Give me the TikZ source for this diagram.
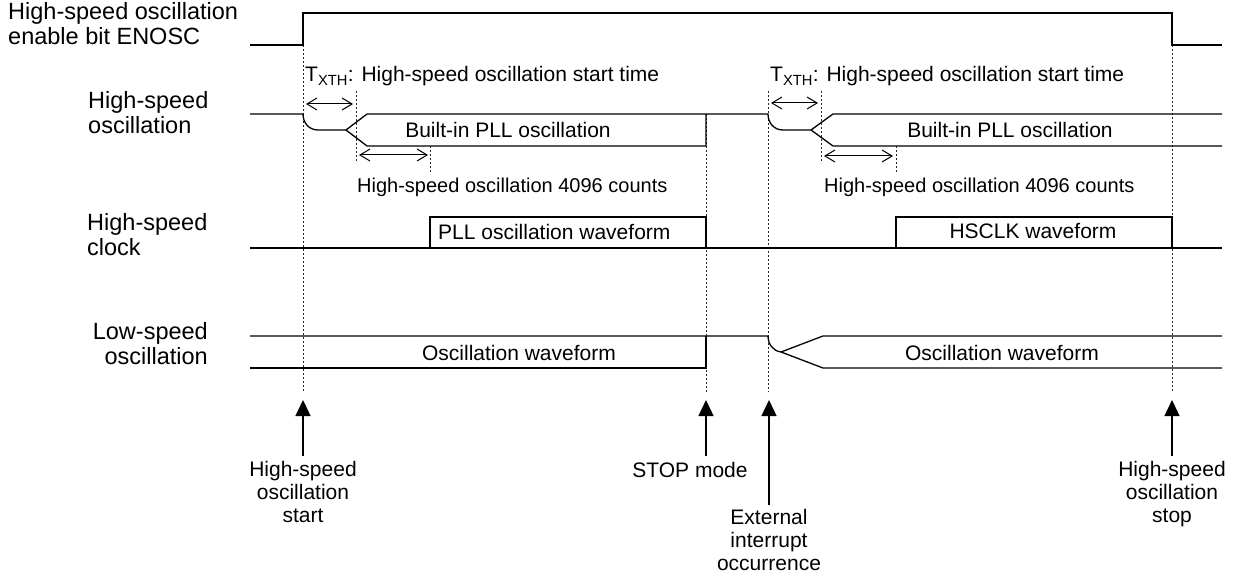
\documentclass[tikz,border=0pt]{standalone}
\usepackage{fontspec}
\setmainfont{Liberation Sans}
\usetikzlibrary{arrows.meta}
\begin{document}
\begin{tikzpicture}[x=1pt,y=-1pt,
  sig/.style={line width=1.3pt, line join=miter},
  guide/.style={line width=0.9pt, dash pattern=on 2pt off 2pt, black!85},
  span/.style={line width=1pt, {Straight Barb[length=10pt,width=12pt]}-{Straight Barb[length=10pt,width=12pt]}},
  evt/.style={line width=1.3pt, -{Triangle[length=16pt,width=15pt]}},
  lbl/.style={inner sep=0pt, font=\fontsize{23.5}{25.5}\selectfont},
  txt/.style={inner sep=0pt, font=\fontsize{21}{23}\selectfont},
  cnt/.style={inner sep=0pt, font=\fontsize{20}{23}\selectfont},
]
\useasboundingbox (0,0) rectangle (1236,577);

% ---- left labels
\node[lbl, anchor=north west, align=left] (lEn) at (8,2) {High-speed oscillation\\enable bit ENOSC};
\node[lbl, anchor=north west, align=left] (lHs) at (88,91) {High-speed\\oscillation};
\node[lbl, anchor=north west, align=left] (lCk) at (87,213) {High-speed\\clock};
\node[lbl, anchor=north east, align=right] (lLs) at (208,322) {Low-speed\\oscillation};

% ---- guides
\draw[guide] (303,45) -- (303,392);
\draw[guide] (356,91) -- (356,163);
\draw[guide] (430,146) -- (430,172);
\draw[guide] (706,114) -- (706,392);
\draw[guide] (768,91) -- (768,392);
\draw[guide] (821,91) -- (821,163);
\draw[guide] (896,146) -- (896,172);
\draw[guide] (1172,45) -- (1172,392);

% ---- ENOSC
\draw[sig] (250,45) -- (303,45) -- (303,13) -- (1172,13) -- (1172,45) -- (1222,45);

% ---- high-speed oscillation
\draw[sig] (250,114) -- (303,114) .. controls (303,123) and (309,130) .. (318,130) -- (346,130);
\draw[sig] (346,130) -- (367,114) -- (768,114) .. controls (768,123) and (774,130) .. (783,130) -- (811,130);
\draw[sig] (346,130) -- (367,146) -- (706,146) -- (706,114);
\draw[sig] (811,130) -- (833,114) -- (1222,114);
\draw[sig] (811,130) -- (833,146) -- (1222,146);

% ---- high-speed clock
\draw[sig] (250,248) -- (1222,248);
\draw[sig] (430,248) -- (430,217) -- (706,217) -- (706,248);
\draw[sig] (896,248) -- (896,217) -- (1172,217) -- (1172,248);

% ---- low-speed oscillation
\draw[sig] (250,336) -- (768,336) .. controls (768,344) and (773,351) .. (781,352);
\draw[sig] (250,368) -- (706,368) -- (706,336);
\draw[sig] (781,352) -- (823,336) -- (1222,336);
\draw[sig] (781,352) -- (823,368) -- (1222,368);

% ---- spans
\coordinate (sa1) at (306,104); \coordinate (sb1) at (353,104);
\coordinate (sa2) at (771,103); \coordinate (sb2) at (818,103);
\coordinate (ca1) at (359,155); \coordinate (cb1) at (428,155);
\coordinate (ca2) at (824,156); \coordinate (cb2) at (893,156);
\draw[span] (sa1) -- (sb1);
\draw[span] (sa2) -- (sb2);
\draw[span] (ca1) -- (cb1);
\draw[span] (ca2) -- (cb2);

% ---- in-diagram texts
\node[txt, anchor=base west] (tx1) at (305,82) {T\textsubscript{XTH}: High-speed oscillation start time};
\node[txt, anchor=base west] (tx2) at (770,82) {T\textsubscript{XTH}: High-speed oscillation start time};
\node[txt, anchor=base] (pl1) at (508,138) {Built-in PLL oscillation};
\node[txt, anchor=base] (pl2) at (1010,138) {Built-in PLL oscillation};
\node[cnt, anchor=base west] (ct1) at (357,193) {High-speed oscillation 4096 counts};
\node[cnt, anchor=base west] (ct2) at (824,193) {High-speed oscillation 4096 counts};
\node[txt, anchor=base west] (wf1) at (438,240) {PLL oscillation waveform};
\node[txt, anchor=base] (wf2) at (1033,239) {HSCLK waveform};
\node[txt, anchor=base] (os1) at (519,360) {Oscillation waveform};
\node[txt, anchor=base] (os2) at (1002,360) {Oscillation waveform};

% ---- events
\node[txt, anchor=north, align=center] (e1) at (303,461) {High-speed\\oscillation\\start};
\node[txt, anchor=north, align=center] (e2) at (690,462) {STOP mode};
\node[txt, anchor=north, align=center] (e3) at (769,509) {External\\interrupt\\occurrence};
\node[txt, anchor=north, align=center] (e4) at (1172,461) {High-speed\\oscillation\\stop};
\coordinate (p1) at (303,400); \coordinate (q1) at (303,456);
\coordinate (p2) at (706,400); \coordinate (q2) at (706,456);
\coordinate (p3) at (769,400); \coordinate (q3) at (769,505);
\coordinate (p4) at (1172,400); \coordinate (q4) at (1172,456);
\draw[evt] (q1) -- (p1);
\draw[evt] (q2) -- (p2);
\draw[evt] (q3) -- (p3);
\draw[evt] (q4) -- (p4);
\end{tikzpicture}
\end{document}
